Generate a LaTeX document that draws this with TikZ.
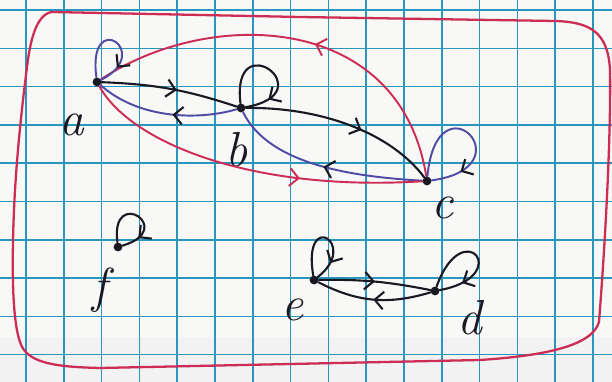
\documentclass[tikz,border=0pt]{standalone}
\usepackage{fontspec}
\usetikzlibrary{arrows.meta,decorations.markings}

\definecolor{gridblue}{RGB}{40,150,190}
\definecolor{penred}{RGB}{205,45,85}
\definecolor{penblue}{RGB}{80,75,165}
\definecolor{penblack}{RGB}{25,25,35}
\definecolor{paper}{RGB}{248,248,246}

\begin{document}
\begin{tikzpicture}[
    x=0.02cm, y=0.02cm,
    gridline/.style={draw=gridblue, line width=0.9pt},
    setline/.style={draw=penred, line width=1.3pt, line cap=round, line join=round},
    vtx/.style={circle, fill=penblack, inner sep=0pt, minimum size=5pt},
    lbl/.style={font=\fontsize{28}{28}\selectfont\itshape, text=penblack},
    pen/.style={draw=penblack, line width=1.2pt, line cap=round},
    bluepen/.style={draw=penblue, line width=1.1pt, line cap=round},
    redpen/.style={draw=penred, line width=1.1pt, line cap=round},
    midarrow/.style={postaction={decorate, decoration={markings,
        mark=at position #1 with {\arrow[penblack, line width=1.2pt]{Straight Barb[length=5pt, width=10pt]}}}}},
    redarrow/.style={postaction={decorate, decoration={markings,
        mark=at position #1 with {\arrow[penred, line width=1.1pt]{Straight Barb[length=5pt, width=10pt]}}}}}
]
\useasboundingbox (0,0) rectangle (612,382);

% Squared paper.
\fill[paper] (0,0) rectangle (612,382);
\fill[black!5] (0,0) rectangle (612,45);
\foreach \k in {0,...,15} {
    \draw[gridline] ({26+37.8*\k},0) -- ({26+37.8*\k},382);
}
\foreach \k in {0,...,9} {
    \draw[gridline] (0,{372-38.3*\k}) -- (612,{372-38.3*\k});
}

% The set boundary.
\draw[setline] (52,370) .. controls (36,368) and (30,340) .. (27,315)
    .. controls (20,260) and (14,200) .. (13,140)
    .. controls (12,90) and (14,45) .. (24,32)
    .. controls (35,18) and (60,15) .. (100,14)
    -- (480,22) .. controls (540,26) and (592,35) .. (599,60)
    .. controls (606,150) and (611,250) .. (610,312)
    .. controls (608,350) and (590,360) .. (555,361)
    -- (300,365) -- (52,370);

% Elements.
\node[vtx] (a) at (97,300) {};
\node[vtx] (b) at (241,274) {};
\node[vtx] (c) at (427,201) {};
\node[vtx] (f) at (118,135) {};
\node[vtx] (e) at (314,102) {};
\node[vtx] (d) at (435,91) {};

\node[lbl] (la) at (72,257) {a};
\node[lbl] (lb) at (237,232) {b};
\node[lbl] (lc) at (443,174) {c};
\node[lbl] (lf) at (100,92) {f};
\node[lbl] (le) at (293,72) {e};
\node[lbl] (ld) at (470,64) {d};

% Pairs a, b, c.
\draw[pen, midarrow=0.55] (a) to[bend left=8] (b);
\draw[bluepen, midarrow=0.45] (b) .. controls (200,262) and (140,262) .. (a);
\draw[pen, midarrow=0.6] (b) .. controls (320,275) and (390,250) .. (c);
\draw[bluepen, midarrow=0.5] (c) .. controls (360,205) and (270,215) .. (b);
\draw[redpen, redarrow=0.45] (c) .. controls (400,370) and (210,375) .. (a);
\draw[redpen, redarrow=0.65] (a) .. controls (130,240) and (250,190) .. (c);

% Pairs e, d.
\draw[pen, midarrow=0.5] (e) to[bend left=6] (d);
\draw[pen, midarrow=0.5] (d) to[bend left=22] (e);

% Loops.
\draw[bluepen, midarrow=0.8] (a) .. controls +(-10,75) and +(58,30) .. (a);
\draw[pen, midarrow=0.8] (b) .. controls +(-10,85) and +(85,15) .. (b);
\draw[bluepen, midarrow=0.8] (c) .. controls +(10,108) and +(102,14) .. (c);
\draw[pen, midarrow=0.8] (f) .. controls +(-8,62) and +(60,18) .. (f);
\draw[pen, midarrow=0.8] (e) .. controls +(-12,72) and +(46,36) .. (e);
\draw[pen, midarrow=0.8] (d) .. controls +(28,78) and +(80,15) .. (d);

\end{tikzpicture}
\end{document}
